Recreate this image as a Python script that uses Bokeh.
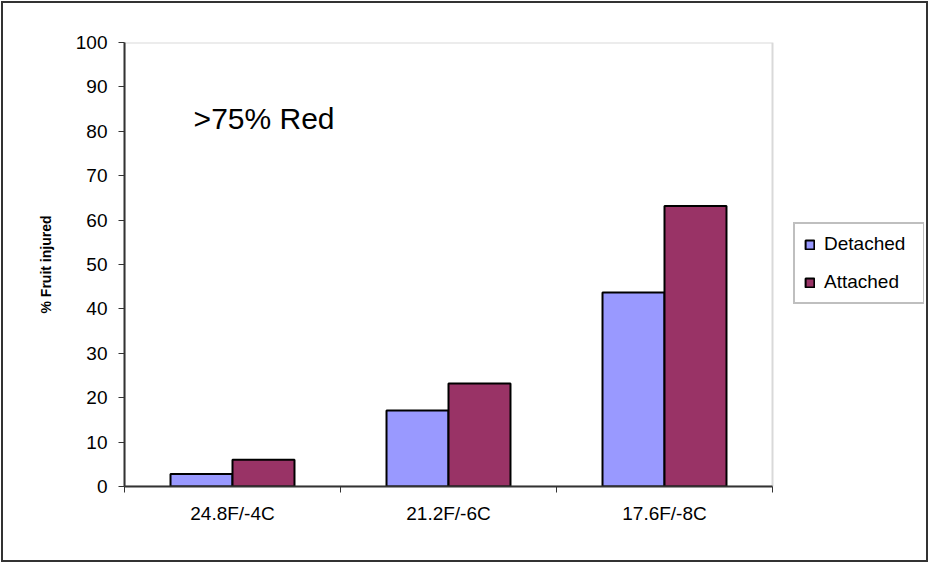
from bokeh.plotting import figure
from bokeh.models import (ColumnDataSource, Range1d, FixedTicker, CustomJSTickFormatter,
                          Legend, LegendItem, Label, BoxAnnotation)
from bokeh.transform import dodge
from bokeh.embed import file_html
from bokeh.resources import INLINE

# Freezing temperatures tested and the share of injured fruit (>75% red stage)
categories = ["24.8F/-4C", "21.2F/-6C", "17.6F/-8C"]
detached = [2.8, 17.1, 43.7]
attached = [6.0, 23.2, 63.2]
y_ticks = [0, 10, 20, 30, 40, 50, 60, 70, 80, 90, 100]

FONT = "Liberation Sans"
BAR_W = 0.287

# plot-area geometry in pixels: 216 px per temperature group, and room on
# the right of the axes for the legend
W, H = 929, 563
LEFT, TOP, BOTTOM = 124, 42, 77
GROUP_PX = 216
RIGHT_PAD = 5
n = len(categories)
frame_w = W - LEFT - RIGHT_PAD
x_end = -0.5 + frame_w / GROUP_PX

positions = list(range(n))
src = ColumnDataSource(dict(x=positions, detached=detached, attached=attached))

p = figure(width=W, height=H, output_backend="svg", toolbar_location=None,
           x_range=Range1d(-0.5, x_end), y_range=Range1d(0, 100),
           min_border_left=LEFT, min_border_right=RIGHT_PAD, min_border_top=TOP,
           min_border_bottom=BOTTOM)
# transparent canvas so the page-level frame line shows through
p.background_fill_color = None
p.border_fill_color = None
p.outline_line_color = None
p.styles = {"background-color": "white",
            "outline": "2px solid #333333", "outline-offset": "-3px"}
p.xgrid.visible = False
p.ygrid.visible = False

# grey border of the plot area (top and right edges visible beside the axes)
p.add_layout(BoxAnnotation(left=-0.5, right=n - 0.5, bottom=0, top=100,
                           fill_alpha=0, line_color="#808080", line_width=2,
                           level="underlay"))

r_det = p.vbar(x=dodge("x", -BAR_W / 2), top="detached", width=BAR_W, source=src,
               fill_color="#9999FF", line_color="black", line_width=2)
r_att = p.vbar(x=dodge("x", BAR_W / 2), top="attached", width=BAR_W, source=src,
               fill_color="#993366", line_color="black", line_width=2)

# y axis
ya = p.yaxis[0]
ya.ticker = FixedTicker(ticks=y_ticks)
ya.axis_line_color = "#333333"
ya.axis_line_width = 2
ya.major_tick_in = 0
ya.major_tick_out = 6
ya.major_tick_line_color = "#333333"
ya.minor_tick_line_color = None
ya.major_label_standoff = 11
ya.major_label_text_font = FONT
ya.major_label_text_font_size = "19px"
ya.major_label_text_color = "black"
ya.axis_label = "% Fruit injured"
ya.axis_label_text_font = FONT
ya.axis_label_text_font_size = "14px"
ya.axis_label_text_font_style = "bold"
ya.axis_label_text_color = "black"
ya.axis_label_standoff = 19

# x axis: labels at group centres, tick marks on group boundaries
xa = p.xaxis[0]
xa.bounds = (-0.5, n - 0.5)
xa.ticker = FixedTicker(ticks=positions,
                        minor_ticks=[i - 0.5 for i in range(n + 1)])
xa.formatter = CustomJSTickFormatter(args=dict(labels=categories),
                                     code="return labels[Math.round(tick)] || '';")
xa.axis_line_color = "#333333"
xa.axis_line_width = 2
xa.major_tick_in = 0
xa.major_tick_out = 0
xa.minor_tick_in = 0
xa.minor_tick_out = 6
xa.minor_tick_line_color = "#333333"
xa.major_label_standoff = 10
xa.major_label_text_font = FONT
xa.major_label_text_font_size = "19px"
xa.major_label_text_color = "black"

# chart caption inside the plot area
p.add_layout(Label(x=-0.18, y=82.9, text=">75% Red", text_font=FONT,
                   text_font_size="30px", text_color="black",
                   text_baseline="middle"))

legend = Legend(items=[LegendItem(label="Detached", renderers=[r_det]),
                       LegendItem(label="Attached", renderers=[r_att])],
                location=(n * GROUP_PX + 21, 182), margin=0, padding=9, spacing=16,
                glyph_width=11, glyph_height=11, label_width=90, label_height=22,
                label_standoff=9, label_text_font=FONT, label_text_font_size="19px",
                label_text_color="black", border_line_color="#808080",
                border_line_width=2, background_fill_color="white",
                background_fill_alpha=1.0)
p.add_layout(legend, "center")

open("out.html", "w").write(file_html(p, INLINE))
